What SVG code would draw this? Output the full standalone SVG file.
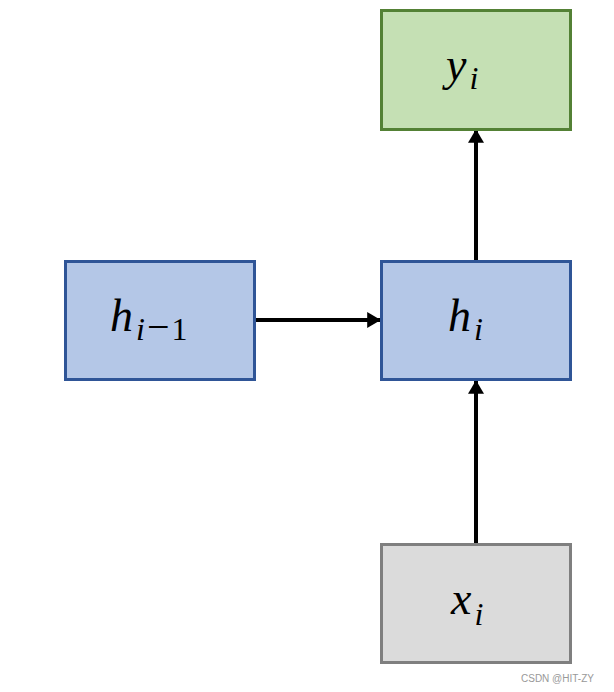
<svg xmlns="http://www.w3.org/2000/svg" width="614" height="692" viewBox="0 0 614 692">
<style>
.box{stroke-width:3}
.blue{fill:#B4C7E7;stroke:#2F5597}
.green{fill:#C5E0B4;stroke:#538135}
.gray{fill:#DBDBDB;stroke:#7F7F7F}
.lbl{font-family:"Liberation Serif","DejaVu Serif",serif;font-style:italic;font-size:46px;fill:#000}
.sub{font-size:32px}
.up{font-style:normal}
.conn{stroke:#000;stroke-width:4;fill:none}
.wm{font-family:"Liberation Sans",Arial,sans-serif;font-size:10px;fill:#999}
</style>
<defs>
<marker id="ah" markerWidth="4" markerHeight="4" refX="3.2" refY="2" orient="auto" markerUnits="strokeWidth">
<path d="M0,0 L3.4,2 L0,4 z" fill="#000"/>
</marker>
</defs>
<rect width="614" height="692" fill="#fff"/>
<g id="connectors">
<line class="conn" x1="256" y1="320" x2="380" y2="320" marker-end="url(#ah)"/>
<line class="conn" x1="476" y1="544" x2="476" y2="381" marker-end="url(#ah)"/>
<line class="conn" x1="476" y1="261" x2="476" y2="130" marker-end="url(#ah)"/>
</g>
<g id="node-y">
<rect class="box green" x="381.5" y="10.5" width="189" height="119"/>
<text class="lbl" x="446" y="80">y<tspan class="sub" dx="3" dy="9">i</tspan></text>
</g>
<g id="node-hprev">
<rect class="box blue" x="65.5" y="261.5" width="189" height="118"/>
<text class="lbl" x="110" y="331">h<tspan class="sub" dx="3" dy="9">i</tspan><tspan class="sub up" dx="2" style="font-size:40px">−</tspan><tspan class="sub up" dx="2">1</tspan></text>
</g>
<g id="node-h">
<rect class="box blue" x="381.5" y="261.5" width="189" height="118"/>
<text class="lbl" x="448" y="331">h<tspan class="sub" dx="3" dy="9">i</tspan></text>
</g>
<g id="node-x">
<rect class="box gray" x="381.5" y="544.5" width="189" height="118"/>
<text class="lbl" x="451" y="614">x<tspan class="sub" dx="3" dy="11">i</tspan></text>
</g>
<text class="wm" x="521" y="682">CSDN @HIT-ZY</text>
</svg>
